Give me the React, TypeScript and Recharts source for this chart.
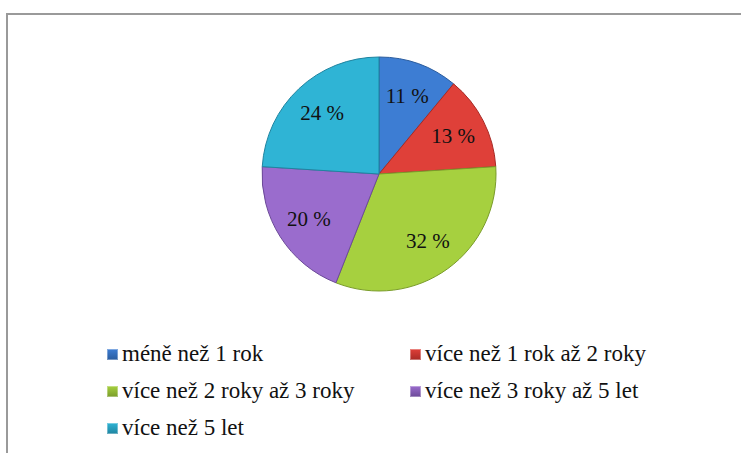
import { PieChart, Pie, Cell, Legend } from 'recharts';

const categories = [
  'méně než 1 rok',
  'více než 1 rok až 2 roky',
  'více než 2 roky až 3 roky',
  'více než 3 roky až 5 let',
  'více než 5 let',
];
const shares = [11, 13, 32, 20, 24];
const colors = ['#3d7dd3', '#df4039', '#a6d03f', '#9a6ccd', '#2fb4d5'];
const edgeColors = ['#2a5c9e', '#a82a25', '#7a9c2a', '#6c4a98', '#1f84a0'];

const data = categories.map((name, i) => ({ name, value: shares[i] }));

const RAD = Math.PI / 180;
const SERIF = "'Liberation Serif', 'Times New Roman', serif";

function SliceLabel(props: any) {
  const { cx, cy, midAngle, outerRadius, value } = props;
  const r = outerRadius * 0.71;
  const x = cx + r * Math.cos(-midAngle * RAD);
  const y = cy + r * Math.sin(-midAngle * RAD);
  return (
    <text
      x={x}
      y={y}
      textAnchor="middle"
      dominantBaseline="central"
      fill="#111"
      fontFamily={SERIF}
      fontSize={21}
    >
      {value} %
    </text>
  );
}

function LegendBox(props: any) {
  const { payload } = props;
  return (
    <div style={{ position: 'relative', width: 741, height: 110, fontFamily: SERIF }}>
      {(payload || []).map((entry: any, i: number) => {
        const col = i % 2;
        const row = Math.floor(i / 2);
        return (
          <div
            key={entry.value}
            style={{
              position: 'absolute',
              left: col ? 410 : 107,
              top: row * 37,
              display: 'flex',
              alignItems: 'center',
              whiteSpace: 'nowrap',
              fontFamily: SERIF,
              fontSize: 23,
              color: '#111',
            }}
          >
            <span
              style={{
                display: 'inline-block',
                width: 11,
                height: 11,
                marginRight: 4,
                background: `linear-gradient(180deg, ${colors[i]} 0%, ${edgeColors[i]} 100%)`,
                boxShadow: 'inset 0 0 0 1px rgba(255,255,255,0.35)',
              }}
            />
            <span style={{ fontFamily: SERIF }}>{entry.value}</span>
          </div>
        );
      })}
    </div>
  );
}

export default function App() {
  return (
    <div
      style={{
        position: 'absolute',
        left: 0,
        top: 0,
        width: 741,
        height: 453,
        overflow: 'hidden',
        background: '#fff',
      }}
    >
      <div
        style={{
          position: 'absolute',
          left: 6,
          top: 13,
          width: 800,
          height: 500,
          border: '2px solid #9a9a9a',
        }}
      />
      <PieChart width={741} height={453} style={{ position: 'absolute', left: 0, top: 0 }}>
        <Pie
          data={data}
          dataKey="value"
          nameKey="name"
          cx={374}
          cy={169}
          outerRadius={117}
          startAngle={90}
          endAngle={-270}
          label={SliceLabel}
          labelLine={false}
          isAnimationActive={false}
        >
          {data.map((d, i) => (
            <Cell key={d.name} fill={colors[i]} stroke={edgeColors[i]} strokeWidth={1} />
          ))}
        </Pie>
        <Legend
          content={LegendBox}
          wrapperStyle={{ position: 'absolute', left: 0, top: 341, width: 741 }}
        />
      </PieChart>
    </div>
  );
}
